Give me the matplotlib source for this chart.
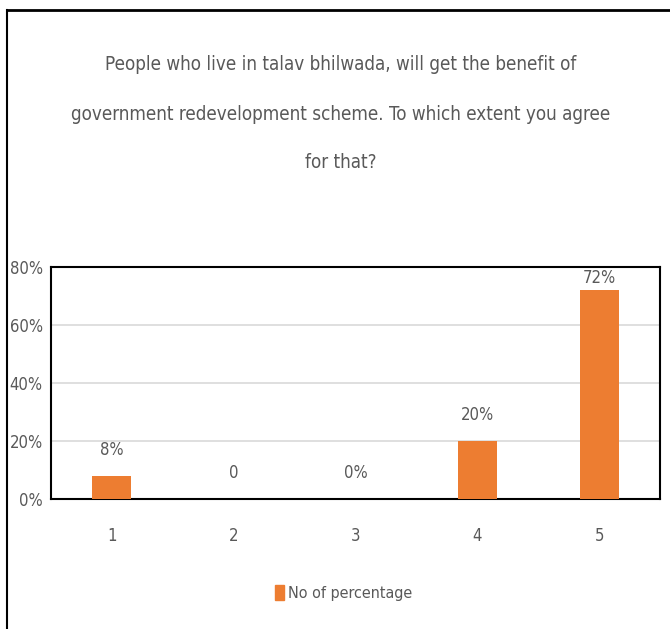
import matplotlib.pyplot as plt
import matplotlib.font_manager as fm
from matplotlib.lines import Line2D
from matplotlib.patches import Patch

# survey answers
categories = ["1", "2", "3", "4", "5"]
values = [8, 0, 0, 20, 72]
value_labels = ["8%", "0", "0%", "20%", "72%"]
title_lines = ["People who live in talav bhilwada, will get the benefit of",
               "government redevelopment scheme. To which extent you agree",
               "for that?"]
legend_label = "No of percentage"

# pick a narrow face if one is installed, the most condensed first
order = {"ultra-condensed": 0, "extra-condensed": 1, "condensed": 2, "semi-condensed": 3}
narrow = [f for f in fm.fontManager.ttflist
          if f.style == "normal" and ("Narrow" in f.name or "Condensed" in f.name
                                      or f.stretch in order)]
narrow.sort(key=lambda f: (order.get(f.stretch, 4), f.weight != 400))
if narrow:
    plt.rcParams['font.family'] = [narrow[0].name, 'DejaVu Sans']
    plt.rcParams['font.stretch'] = narrow[0].stretch
else:
    plt.rcParams['font.family'] = ['DejaVu Sans']
grey = "#595959"
orange = "#ED7D31"

fig = plt.figure(figsize=(6.7, 6.29), dpi=100)
ax = fig.add_axes([51 / 670, 1 - 499 / 629, 609 / 670, 232 / 629])

x = range(len(categories))
ax.bar(x, values, width=0.32, color=orange, zorder=3)
for i, (v, lab) in enumerate(zip(values, value_labels)):
    off = 12 if v < 60 else 2
    ax.annotate(lab, (i, v), xytext=(0, off), textcoords="offset points",
                ha="center", va="bottom", fontsize=12, color=grey)

ax.set_xlim(-0.5, 4.5)
ax.set_ylim(0, 80)
ax.set_yticks([0, 20, 40, 60, 80])
ax.set_yticklabels(["0%", "20%", "40%", "60%", "80%"])
ax.set_xticks(list(x))
ax.set_xticklabels(categories)
ax.tick_params(length=0, labelsize=12, colors=grey)
ax.tick_params(axis="x", pad=20)
ax.tick_params(axis="y", pad=6)
ax.grid(axis="y", color="#d9d9d9", linewidth=1.2, zorder=0)
for s in ax.spines.values():
    s.set_color("black")
    s.set_linewidth(1.5)

# title, one text per line, scaled so the widest line spans ~540 px
baselines = [70, 120, 168]
titles = [fig.text(0.509, 1 - b / 629, t, ha="center", va="baseline",
                   fontsize=20, color=grey) for t, b in zip(title_lines, baselines)]
r = fig.canvas.get_renderer()
w = max(t.get_window_extent(r).width for t in titles)
size = min(24, 20 * 540 / w)
for t in titles:
    t.set_fontsize(size)

fig.legend(handles=[Patch(color=orange, label=legend_label)],
           loc="center", bbox_to_anchor=(0.513, 1 - 593 / 629), frameon=False,
           fontsize=11.5, labelcolor=grey, handlelength=0.55, handleheight=1.1,
           handletextpad=0.3)

# outer frame (left and top edges)
fig.add_artist(Line2D([7 / 670, 7 / 670], [0, 1 - 10 / 629], color="black", lw=1.5))
fig.add_artist(Line2D([7 / 670, 1], [1 - 10 / 629, 1 - 10 / 629], color="black", lw=2))

fig.savefig("out.png", dpi=100)
